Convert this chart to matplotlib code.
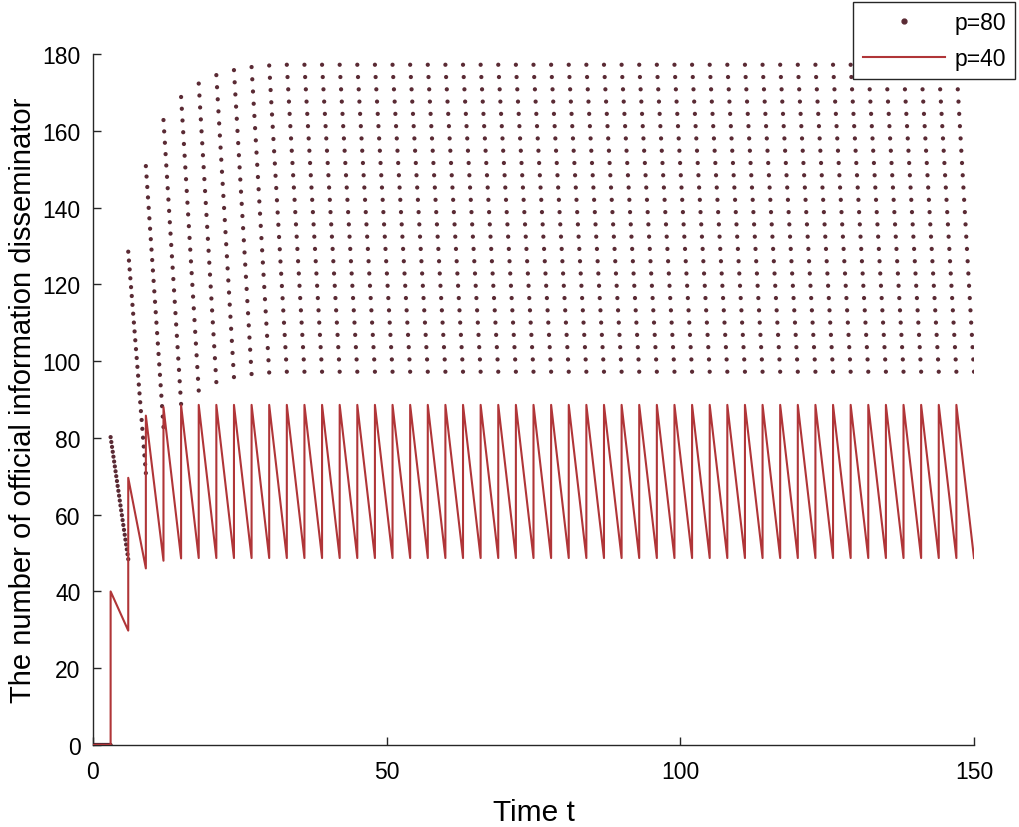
import numpy as np
import matplotlib
matplotlib.use('Agg')
import matplotlib.pyplot as plt
from matplotlib.lines import Line2D

plt.rcParams['font.family'] = ['Liberation Sans', 'DejaVu Sans']
plt.rcParams['lines.scale_dashes'] = False

# impulse instants (period 3) and end of simulation
impulse_t = list(range(3, 150, 3))
t_end = 150

# p=40 : value just before / just after each impulse, value at t_end
p40_before = [0, 29.8, 46.0, 48.0, 48.6, 48.7, 48.7, 48.7, 48.7, 48.7,
              48.7, 48.7, 48.7, 48.7, 48.7, 48.7, 48.7, 48.7, 48.7, 48.7,
              48.7, 48.7, 48.7, 48.7, 48.7, 48.7, 48.7, 48.7, 48.7, 48.7,
              48.7, 48.7, 48.7, 48.7, 48.7, 48.7, 48.7, 48.7, 48.7, 48.7,
              48.7, 48.7, 48.7, 48.7, 48.7, 48.7, 48.7, 48.7, 48.7]
p40_after = [40.0, 69.6, 85.8, 88.0, 88.5, 88.6, 88.6, 88.6, 88.6, 88.6,
             88.6, 88.6, 88.6, 88.6, 88.6, 88.6, 88.6, 88.6, 88.6, 88.6,
             88.6, 88.6, 88.6, 88.6, 88.6, 88.6, 88.6, 88.6, 88.6, 88.6,
             88.6, 88.6, 88.6, 88.6, 88.6, 88.6, 88.6, 88.6, 88.6, 88.6,
             88.6, 88.6, 88.6, 88.6, 88.6, 88.6, 88.6, 88.6, 88.6]
p40_final = 48.7

# p=80 : value right after each impulse (top of a dot column) and
# value reached just before the next impulse (bottom of the column)
p80_top = [80.2, 128.5, 150.8, 162.8, 168.8, 172.3, 174.5, 175.8, 176.6, 177.0,
           177.2, 177.2, 177.2, 177.2, 177.2, 177.2, 177.2, 177.2, 177.2, 177.2,
           177.2, 177.2, 177.2, 177.2, 177.2, 177.2, 177.2, 177.2, 177.2, 177.2,
           177.2, 177.2, 177.2, 177.2, 177.2, 177.2, 177.2, 177.2, 177.2, 177.2,
           177.2, 177.2, 177.2, 177.2, 177.2, 177.2, 177.2, 177.2, 177.2]
p80_bottom = [48.4, 70.8, 82.8, 88.8, 92.3, 94.5, 95.8, 96.6, 97.0, 97.2,
              97.2, 97.2, 97.2, 97.2, 97.2, 97.2, 97.2, 97.2, 97.2, 97.2,
              97.2, 97.2, 97.2, 97.2, 97.2, 97.2, 97.2, 97.2, 97.2, 97.2,
              97.2, 97.2, 97.2, 97.2, 97.2, 97.2, 97.2, 97.2, 97.2, 97.2,
              97.2, 97.2, 97.2, 97.2, 97.2, 97.2, 97.2, 97.2, 97.2]

dot_color = '#5a2a34'
line_color = '#b03538'
n_dots = 26  # samples per period

fig = plt.figure(figsize=(10.2, 8.28), dpi=100)
ax = fig.add_axes([93 / 1020, 1 - 746 / 828, 881 / 1020, 691 / 828])
ax.set_xlim(0, 150)
ax.set_ylim(0, 180)

# p=80 drawn as sampled dots (markers only, no vertical jumps)
cols = [(0, impulse_t[0], 0, 0)]
for k, t0 in enumerate(impulse_t):
    t1 = impulse_t[k + 1] if k + 1 < len(impulse_t) else t_end
    cols.append((t0, t1, p80_top[k], p80_bottom[k]))

for t0, t1, v0, v1 in cols:
    a = ax.transData.transform((t0, v0))
    b = ax.transData.transform((t1, v1))
    L = np.hypot(*(b - a)) * 72 / 100
    step = L / (n_dots - 1) * 0.9995
    ax.plot([t0, t1], [v0, v1], color=dot_color, lw=3.1,
            dashes=(0.01, step - 0.01), dash_capstyle='round', zorder=2)

# p=40 drawn as a continuous line with vertical jumps
xs = [0]
ys = [0]
for k, t0 in enumerate(impulse_t):
    xs += [t0, t0]
    ys += [p40_before[k], p40_after[k]]
xs.append(t_end)
ys.append(p40_final)
ax.plot(xs, ys, color=line_color, lw=1.5, zorder=3)

for s in ['top', 'right']:
    ax.spines[s].set_visible(False)
for s in ['left', 'bottom']:
    ax.spines[s].set_color('#262626')
    ax.spines[s].set_linewidth(1.0)

ax.set_xticks([0, 50, 100, 150])
ax.set_yticks(range(0, 181, 20))
ax.tick_params(direction='in', length=6, width=1, color='#262626',
               labelsize=16.5)
ax.tick_params(axis='x', pad=11)
ax.tick_params(axis='y', pad=9)

ax.set_xlabel('Time t', fontsize=21.5)
ax.set_ylabel('The number of official information disseminator', fontsize=21)
ax.xaxis.set_label_coords(0.5, -0.077)
ax.yaxis.set_label_coords(-0.064, 0.5)

handles = [Line2D([], [], color=dot_color, marker='.', markersize=7, linestyle='none'),
           Line2D([], [], color=line_color, lw=1.5)]
fig.legend(handles, ['p=80', 'p=40'], loc='upper right',
           bbox_to_anchor=(1015 / 1020, 1 - 3 / 828), fontsize=16.5,
           handlelength=3.6, frameon=True, fancybox=False, edgecolor='#262626',
           framealpha=1, borderpad=0.4, labelspacing=0.55, handletextpad=0.4,
           borderaxespad=0)

fig.savefig('out.png', dpi=100)
